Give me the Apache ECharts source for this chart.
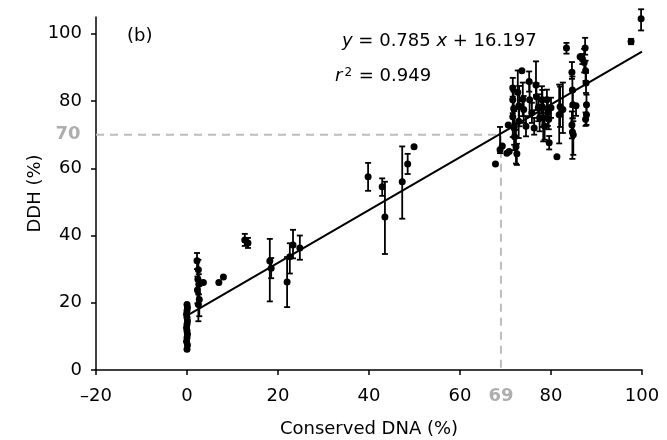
<!DOCTYPE html>
<html>
<head>
<meta charset="utf-8">
<script src="https://cdn.jsdelivr.net/npm/echarts@6/dist/echarts.min.js"></script>
<style>
  html, body { margin: 0; padding: 0; background: #fff; }
  #chart { width: 667px; height: 440px; }
</style>
</head>
<body>
<div id="chart"></div>
<script>
// each point: [conserved DNA %, DDH %, error below, error above]
const nearZero = [
  [0, 6.2, 0, 0], [0.1, 7.4, 0, 0], [-0.1, 8.5, 0, 0], [0, 9.6, 0, 0],
  [0.1, 10.6, 0, 0], [0, 11.6, 0, 0], [-0.1, 12.6, 0, 0], [0, 13.6, 0, 0],
  [0.1, 14.6, 0, 0], [0, 15.6, 0, 0], [-0.1, 16.6, 0, 0], [0, 17.6, 0, 0],
  [0.1, 18.6, 0, 0], [0, 19.5, 0, 0]
];
const lowRange = [
  [2.2, 32.5, 2.5, 2.3], [2.5, 29.8, 3, 3], [2.4, 27, 4, 3], [2.6, 25.5, 3, 3],
  [2.3, 23.8, 4, 4], [2.7, 21, 5, 4], [2.5, 19.5, 5, 3], [3.6, 26, 0, 0],
  [7, 26, 0, 0], [8, 27.7, 0, 0], [12.7, 38.7, 1.8, 1.8], [13.4, 37.8, 1.5, 1.5],
  [18.2, 32.4, 12, 6.6], [18.5, 30.3, 3, 3], [22, 26.2, 7.5, 7.4],
  [22.6, 33.7, 5, 4], [23.3, 37.2, 4, 4.5], [24.8, 36.3, 3.5, 3.7]
];
const midRange = [
  [39.8, 57.5, 4.2, 4.1], [42.9, 54.5, 2.7, 2.5], [43.5, 45.5, 11, 10.5],
  [47.3, 56, 11, 10.5], [48.5, 61.3, 3, 3], [49.9, 66.4, 0, 0]
];
const highRange = [
  [67.8, 61.3, 0, 0], [68.8, 65.5, 1, 6.8], [69.3, 66.6, 0, 0], [70.3, 64.5, 0, 0],
  [70.8, 65, 0, 0], [70.6, 72.9, 0, 0], [71.6, 83.9, 3.5, 3], [71.6, 80.4, 4, 4],
  [71.8, 77.8, 5, 5], [71.6, 75.3, 6, 6], [71.9, 72, 5, 5], [72, 69.4, 4, 4],
  [72.3, 66.4, 5, 5], [72.5, 64.3, 3.3, 3], [72.7, 82.6, 5, 6.5], [73, 78.5, 6, 6],
  [72.9, 74, 5, 5], [73.6, 89, 0, 0], [73.8, 80.5, 5, 5], [74, 77.5, 4, 4],
  [74.5, 72.5, 3, 3], [75.2, 85.8, 3, 3], [75.3, 80.4, 5, 5], [75.8, 76.5, 3, 3],
  [76.3, 72, 2, 3], [76.7, 84.8, 3, 7], [76.8, 81.3, 4, 4], [77.2, 78, 4, 4],
  [77.5, 75, 4, 4], [78, 80.4, 4, 4], [78.1, 78.3, 6, 5], [78.3, 75, 7, 6],
  [78.6, 72.5, 4, 3], [79.1, 80.4, 3, 3], [79.3, 76.6, 4, 4], [79.5, 74.6, 3, 3],
  [79.6, 67.6, 2, 2], [80, 78, 3, 3], [81.3, 63.4, 0, 0], [81.8, 75.9, 8.5, 9],
  [82, 78.3, 6, 6], [82.6, 77.5, 7, 8], [83.4, 95.8, 1.7, 1.5], [84.6, 88.6, 2, 3],
  [84.7, 83.3, 5, 4], [84.8, 78.9, 4, 4], [84.6, 72.9, 4, 4], [84.7, 70.8, 8, 4],
  [84.9, 70, 6, 4], [85.5, 78.6, 3, 0], [86.4, 93.2, 0, 0], [86.9, 92.5, 1.5, 1.5],
  [87.3, 91.5, 3, 4], [87.5, 95.8, 2, 3], [87.6, 89, 3, 3], [87.7, 85.4, 3, 3],
  [87.8, 78.9, 3, 3], [87.8, 75.9, 3, 3], [87.6, 74.6, 2, 2],
  [97.6, 97.7, 0.8, 0.8], [99.8, 104.5, 3.5, 2.8]
];
const fitSlope = 0.785;
const fitIntercept = 16.197;
const fitRange = [0, 100];
const cutoffX = 69;
const cutoffY = 70;
const yTicks = [0, 20, 40, 60, 80, 100];

const FONT = 'DejaVu Sans, Liberation Sans, Arial, sans-serif';
const FS = 18;
const allPoints = nearZero.concat(lowRange, midRange, highRange);
const scatterData = allPoints.map(p => [p[0], p[1]]);
const errorData = allPoints
  .filter(p => p[2] > 0 || p[3] > 0)
  .map(p => [p[0], p[1] - p[2], p[1] + p[3]]);
const fitData = fitRange.map(x => [x, fitSlope * x + fitIntercept]);

function renderErrorBar(params, api) {
  const x = api.value(0);
  const lo = api.coord([x, api.value(1)]);
  const hi = api.coord([x, api.value(2)]);
  const w = 3;
  const style = { stroke: '#000', lineWidth: 1.8 };
  return {
    type: 'group',
    children: [
      { type: 'line', shape: { x1: lo[0], y1: lo[1], x2: hi[0], y2: hi[1] }, style },
      { type: 'line', shape: { x1: lo[0] - w, y1: lo[1], x2: lo[0] + w, y2: lo[1] }, style },
      { type: 'line', shape: { x1: hi[0] - w, y1: hi[1], x2: hi[0] + w, y2: hi[1] }, style },
    ],
  };
}

const chart = echarts.init(document.getElementById('chart'), null, { renderer: 'canvas' });
chart.setOption({
  animation: false,
  textStyle: { fontFamily: FONT },
  grid: { left: 96, right: 25, top: 17, bottom: 70, outerBoundsMode: 'none' },
  xAxis: {
    type: 'value',
    min: -20,
    max: 100,
    interval: 20,
    name: 'Conserved DNA (%)',
    nameLocation: 'middle',
    nameGap: 50,
    nameMoveOverlap: false,
    nameTextStyle: { fontSize: FS, color: '#000', fontFamily: FONT },
    splitLine: { show: false },
    axisLine: { onZero: false, lineStyle: { color: '#000', width: 1.5 } },
    axisTick: { length: 5, lineStyle: { color: '#000', width: 1.5 } },
    axisLabel: {
      fontSize: FS,
      color: '#000',
      margin: 17,
      fontFamily: FONT,
      formatter: v => (v < 0 ? '\u2013' + (-v) : String(v)),
    },
  },
  yAxis: {
    type: 'value',
    min: 0,
    max: 105,
    interval: 20,
    name: 'DDH (%)',
    nameLocation: 'middle',
    nameGap: 52,
    nameMoveOverlap: false,
    nameTextStyle: { fontSize: FS, color: '#000', fontFamily: FONT },
    splitLine: { show: false },
    axisLine: { onZero: false, lineStyle: { color: '#000', width: 1.5 } },
    axisTick: { length: 5, customValues: yTicks, lineStyle: { color: '#000', width: 1.5 } },
    axisLabel: { fontSize: FS, color: '#000', margin: 14, customValues: yTicks, fontFamily: FONT },
  },
  graphic: [
    { type: 'text', left: 127, top: 27, style: { text: '(b)', fontSize: FS, fontFamily: FONT, fill: '#000' } },
    {
      type: 'text', left: 342, top: 32,
      style: {
        text: '{i|y} = 0.785 {i|x} + 16.197',
        fontSize: FS, fontFamily: FONT, fill: '#000',
        rich: { i: { fontStyle: 'italic', fontSize: FS, fontFamily: FONT } },
      },
    },
    {
      type: 'text', left: 335, top: 67,
      style: {
        text: '{i|r}{s|2} = 0.949',
        fontSize: FS, fontFamily: FONT, fill: '#000',
        rich: {
          i: { fontStyle: 'italic', fontSize: FS, fontFamily: FONT },
          s: { fontSize: 12, fontFamily: FONT, verticalAlign: 'top', padding: [0, 1, 0, 2] },
        },
      },
    },
  ],
  series: [
    {
      type: 'line',
      data: [[-20, cutoffY], [cutoffX, cutoffY], [cutoffX, 0]],
      symbol: 'none',
      lineStyle: { color: '#bdbdbd', width: 2, type: [8, 6] },
      z: 1,
    },
    {
      type: 'scatter',
      symbolSize: 1,
      itemStyle: { color: 'rgba(0,0,0,0)' },
      data: [
        { value: [-20, cutoffY], label: { show: true, position: 'left', distance: 15, formatter: String(cutoffY) } },
        { value: [cutoffX, 0], label: { show: true, position: 'bottom', distance: 17, formatter: String(cutoffX) } },
      ],
      label: { color: '#9a9a9a', fontWeight: 'bold', fontSize: FS, fontFamily: FONT },
      z: 1,
    },
    {
      type: 'line',
      data: fitData,
      symbol: 'none',
      lineStyle: { color: '#000', width: 2 },
      z: 2,
    },
    {
      type: 'custom',
      renderItem: renderErrorBar,
      data: errorData,
      encode: { x: 0, y: [1, 2] },
      z: 3,
    },
    {
      type: 'scatter',
      data: scatterData,
      symbolSize: 7,
      itemStyle: { color: '#000', opacity: 1 },
      z: 4,
    },
  ],
});
</script>
</body>
</html>
